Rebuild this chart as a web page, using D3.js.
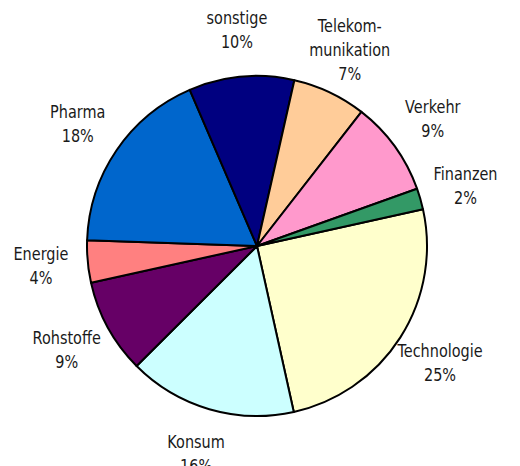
<!DOCTYPE html>
<html>
<head>
<meta charset="utf-8">
<script src="https://cdn.jsdelivr.net/npm/d3@7"></script>
<style>
body{margin:0;background:#fff;}
text{font-family:"DejaVu Sans",sans-serif;font-size:17px;fill:#1a1a1a;}
</style>
</head>
<body>
<div id="pie"></div>
<script>
// sectors in drawing order (clockwise)
var sectors = ["Technologie", "Konsum", "Rohstoffe", "Energie", "Pharma", "sonstige", "Telekom-|munikation", "Verkehr", "Finanzen"];
var shares = [25, 16, 9, 4, 18, 10, 7, 9, 2];
var colours = ["#ffffcc", "#ccffff", "#660066", "#ff8080", "#0066cc", "#000080", "#ffcc99", "#ff99cc", "#339966"];

var width = 520, height = 466;
var cx = 257, cy = 246, radius = 170, labelRadius = 217;
var start = 77.5 * Math.PI / 180;

var svg = d3.select("#pie").append("svg")
  .attr("width", width)
  .attr("height", height);

var g = svg.append("g").attr("transform", "translate(" + cx + "," + cy + ")");

var data = sectors.map(function(s, i){ return {name: s, value: shares[i], colour: colours[i]}; });

var pie = d3.pie()
  .sort(null)
  .value(function(d){ return d.value; })
  .startAngle(start)
  .endAngle(start + 2 * Math.PI);

var arc = d3.arc().innerRadius(0).outerRadius(radius);
var labelArc = d3.arc().innerRadius(labelRadius).outerRadius(labelRadius);

g.selectAll("path.slice")
  .data(pie(data))
  .enter()
  .append("path")
  .attr("class", "slice")
  .attr("d", arc)
  .attr("fill", function(d){ return d.data.colour; })
  .attr("stroke", "#000")
  .attr("stroke-width", 2)
  .attr("stroke-linejoin", "round");

// labels: narrow the font a little, the original uses a condensed face
var lineH = 24;
var labels = g.selectAll("text.lbl")
  .data(pie(data))
  .enter()
  .append("text")
  .attr("class", "lbl")
  .attr("text-anchor", "middle")
  .attr("transform", function(d){ return "translate(" + labelArc.centroid(d) + ") scale(0.85,1)"; });

labels.each(function(d){
  var lines = d.data.name.split("|").concat([d.data.value + "%"]);
  var top = -(lines.length - 1) * lineH / 2;
  d3.select(this).selectAll("tspan")
    .data(lines)
    .enter()
    .append("tspan")
    .attr("x", 0)
    .attr("y", function(t, i){ return top + i * lineH; })
    .attr("dy", "0.35em")
    .text(function(t){ return t; });
});
</script>
</body>
</html>
